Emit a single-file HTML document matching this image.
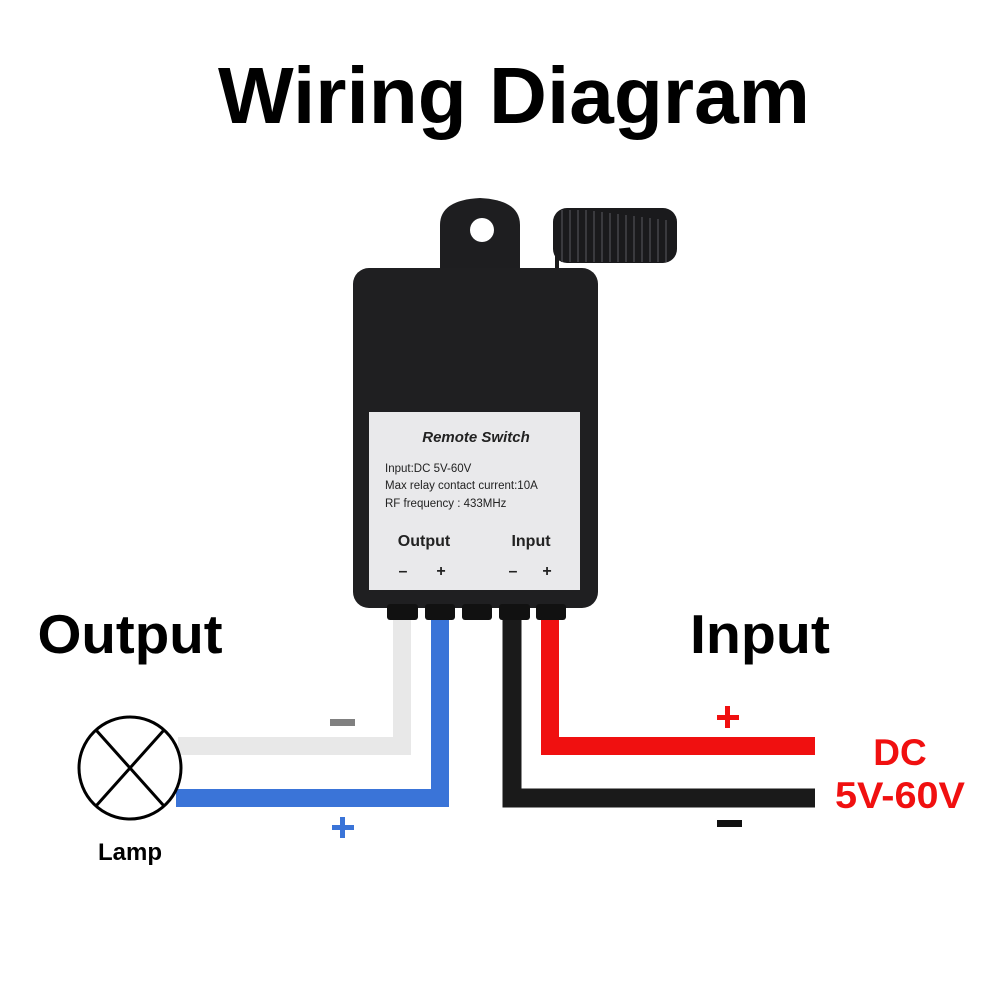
<!DOCTYPE html>
<html><head><meta charset="utf-8"><style>
html,body{margin:0;padding:0;background:#fff;}
svg{display:block;font-family:"Liberation Sans",Arial,sans-serif;}
</style></head><body>
<svg width="1000" height="1000" viewBox="0 0 1000 1000" xmlns="http://www.w3.org/2000/svg">
<rect width="1000" height="1000" fill="#fff"/>
<text x="514" y="123" text-anchor="middle" font-size="80" font-weight="bold" fill="#000" textLength="592" lengthAdjust="spacingAndGlyphs">Wiring Diagram</text>
<text x="130" y="653" text-anchor="middle" font-size="55" font-weight="bold" fill="#000" textLength="185" lengthAdjust="spacingAndGlyphs">Output</text>
<text x="760" y="653" text-anchor="middle" font-size="55" font-weight="bold" fill="#000" textLength="140" lengthAdjust="spacingAndGlyphs">Input</text>

<!-- antenna -->
<line x1="557" y1="220" x2="557" y2="275" stroke="#1a1a1a" stroke-width="4"/>
<rect x="553" y="208" width="124" height="55" rx="14" fill="#1a1a1c"/>
<g stroke="#3a3a3e" stroke-width="2">
<line x1="562" y1="210" x2="562" y2="262"/><line x1="570" y1="210" x2="570" y2="262"/>
<line x1="578" y1="210" x2="578" y2="262"/><line x1="586" y1="210" x2="586" y2="262"/>
<line x1="594" y1="211" x2="594" y2="262"/><line x1="602" y1="212" x2="602" y2="262"/>
<line x1="610" y1="213" x2="610" y2="262"/><line x1="618" y1="214" x2="618" y2="262"/>
<line x1="626" y1="215" x2="626" y2="262"/><line x1="634" y1="216" x2="634" y2="262"/>
<line x1="642" y1="217" x2="642" y2="262"/><line x1="650" y1="218" x2="650" y2="262"/>
<line x1="658" y1="219" x2="658" y2="262"/><line x1="666" y1="220" x2="666" y2="262"/>
</g>

<!-- body -->
<path d="M440 272 L440 225 Q440 200 480 198 Q520 200 520 225 L520 272 Z" fill="#1e1e20"/>
<circle cx="482" cy="230" r="12" fill="#fff"/>
<rect x="353" y="268" width="245" height="340" rx="16" fill="#1f1f21"/>
<rect x="387" y="604" width="31" height="16" rx="3" fill="#111"/>
<rect x="425" y="604" width="30" height="16" rx="3" fill="#111"/>
<rect x="462" y="604" width="30" height="16" rx="3" fill="#111"/>
<rect x="499" y="604" width="31" height="16" rx="3" fill="#111"/>
<rect x="536" y="604" width="30" height="16" rx="3" fill="#111"/>
<rect x="369" y="412" width="211" height="178" fill="#e9e9eb"/>
<text x="476" y="442" text-anchor="middle" font-size="15" font-style="italic" font-weight="bold" fill="#222">Remote Switch</text>
<text x="385" y="472" font-size="11.5" fill="#222">Input:DC 5V-60V</text>
<text x="385" y="489" font-size="11.5" fill="#222">Max relay contact current:10A</text>
<text x="385" y="507" font-size="11.5" fill="#222">RF frequency : 433MHz</text>
<text x="424" y="546" text-anchor="middle" font-size="16" font-weight="bold" fill="#222">Output</text>
<text x="531" y="546" text-anchor="middle" font-size="16" font-weight="bold" fill="#222">Input</text>
<text x="403" y="576" text-anchor="middle" font-size="16" font-weight="bold" fill="#222">–</text>
<text x="441" y="576" text-anchor="middle" font-size="16" font-weight="bold" fill="#222">+</text>
<text x="513" y="576" text-anchor="middle" font-size="16" font-weight="bold" fill="#222">–</text>
<text x="547" y="576" text-anchor="middle" font-size="16" font-weight="bold" fill="#222">+</text>

<!-- wires -->
<path d="M402 620 V746 H178" fill="none" stroke="#e8e8e8" stroke-width="18"/>
<path d="M440 620 V798 H176" fill="none" stroke="#3a74d8" stroke-width="18"/>
<path d="M512 620 V798 H815" fill="none" stroke="#1a1a1a" stroke-width="19"/>
<path d="M550 620 V746 H815" fill="none" stroke="#f01010" stroke-width="18"/>

<!-- lamp -->
<circle cx="130" cy="768" r="51" fill="#fff" stroke="#000" stroke-width="3"/>
<line x1="96" y1="730" x2="164" y2="806" stroke="#000" stroke-width="3"/>
<line x1="164" y1="730" x2="96" y2="806" stroke="#000" stroke-width="3"/>
<text x="130" y="860" text-anchor="middle" font-size="24" font-weight="bold" fill="#000">Lamp</text>

<rect x="330" y="719" width="25" height="7" fill="#808080"/>
<rect x="332" y="825" width="22" height="5" fill="#3a74d8"/>
<rect x="340" y="817" width="5" height="21" fill="#3a74d8"/>
<rect x="717" y="715" width="22" height="5" fill="#f01010"/>
<rect x="725" y="706" width="5" height="22" fill="#f01010"/>
<rect x="717" y="820" width="25" height="7" fill="#111"/>

<text x="900" y="765" text-anchor="middle" font-size="37" font-weight="bold" fill="#f01010">DC</text>
<text x="900" y="808" text-anchor="middle" font-size="37" font-weight="bold" fill="#f01010" textLength="130" lengthAdjust="spacingAndGlyphs">5V-60V</text>
</svg>
</body></html>
